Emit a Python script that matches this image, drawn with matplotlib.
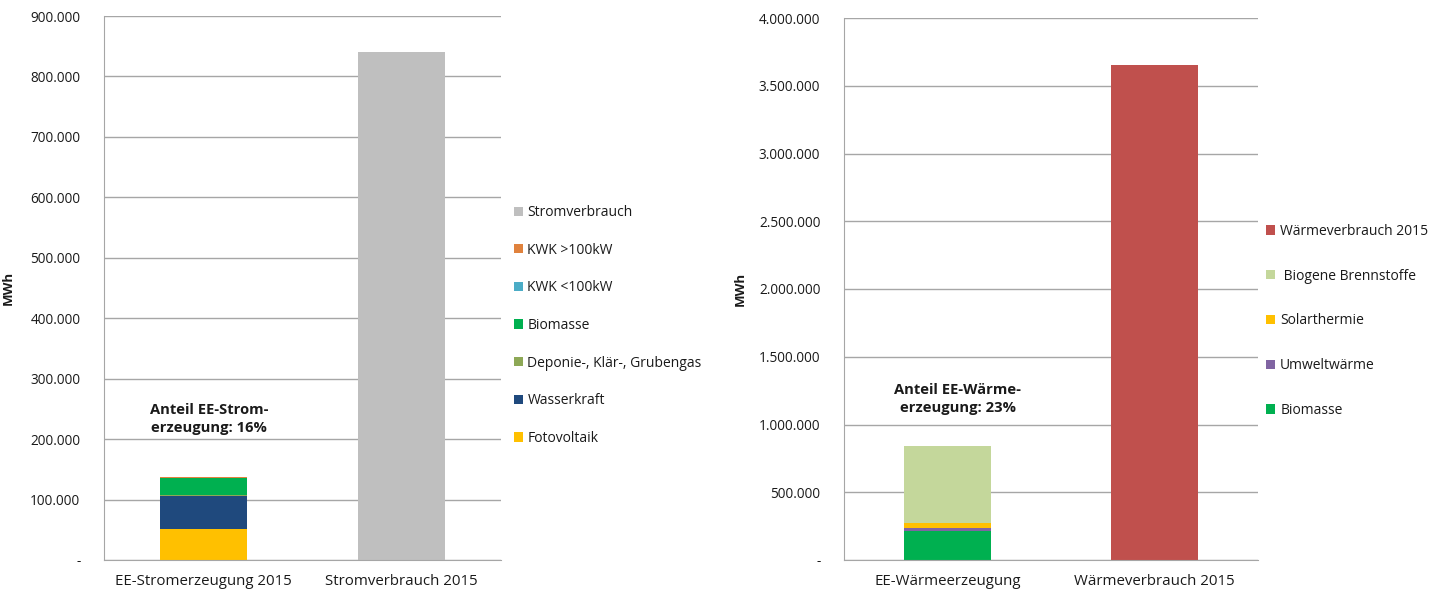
import matplotlib.pyplot as plt
import matplotlib.ticker as mticker
import numpy as np

plt.rcParams['font.family'] = ['Open Sans', 'DejaVu Sans']

# Strom: EE-Erzeugung (gestapelt) und Verbrauch 2015, MWh
strom_kat = ['EE-Stromerzeugung 2015', 'Stromverbrauch 2015']
strom_quellen = ['Fotovoltaik', 'Wasserkraft', 'Deponie-, Klär-, Grubengas',
                 'Biomasse', 'KWK <100kW', 'KWK >100kW']
strom_werte = [52000, 54500, 500, 28000, 500, 1500]
strom_farben = ['#FFC000', '#1F497D', '#8DA856', '#00B050', '#4BACC6', '#E0823D']
stromverbrauch = 840000

# Wärme: EE-Erzeugung (gestapelt) und Verbrauch 2015, MWh
waerme_kat = ['EE-Wärmeerzeugung', 'Wärmeverbrauch 2015']
waerme_quellen = ['Biomasse', 'Umweltwärme', 'Solarthermie', ' Biogene Brennstoffe']
waerme_werte = [211000, 22000, 37000, 575000]
waerme_farben = ['#00B050', '#8064A2', '#FFC000', '#C4D79B']
waermeverbrauch = 3653000

TXT = '#1a1a1a'


def tausender(v, pos):
    if v == 0:
        return '-'
    return f'{v:,.0f}'.replace(',', '.')


def achse_stil(ax, ymax, step, label_x):
    ax.set_ylim(0, ymax)
    ax.set_xlim(-0.5, 1.5)
    ax.yaxis.set_major_locator(mticker.MultipleLocator(step))
    ax.yaxis.set_major_formatter(mticker.FuncFormatter(tausender))
    ax.grid(axis='y', color='#A6A6A6', linewidth=1)
    ax.set_axisbelow(True)
    for s in ['top', 'right']:
        ax.spines[s].set_visible(False)
    for s in ['left', 'bottom']:
        ax.spines[s].set_color('#A6A6A6')
    ax.tick_params(axis='y', length=0, labelsize=9.8, colors=TXT, pad=17)
    ax.tick_params(axis='x', length=0, labelsize=10.8, colors=TXT, pad=10)
    ax.set_ylabel('MWh', fontsize=9.5, fontweight='bold', color=TXT)
    ax.yaxis.set_label_coords(label_x, 0.5)


fig = plt.figure(figsize=(14.39, 5.94), dpi=100)
ax1 = fig.add_axes([104 / 1439, 1 - 560 / 594, 397 / 1439, 544 / 594])
ax2 = fig.add_axes([844 / 1439, 1 - 560 / 594, 414 / 1439, 542 / 594])

# Linkes Diagramm: Strom
x = np.arange(len(strom_kat))
unten = 0
griffe = []
for name, wert, farbe in zip(strom_quellen, strom_werte, strom_farben):
    b = ax1.bar(x[0], wert, bottom=unten, width=0.44, color=farbe, label=name)
    griffe.append(b)
    unten += wert
b = ax1.bar(x[1], stromverbrauch, width=0.44, color='#BFBFBF', label='Stromverbrauch')
griffe.append(b)
ax1.set_xticks(x)
ax1.set_xticklabels(strom_kat)
achse_stil(ax1, 900000, 100000, -0.225)
ax1.text(x[0] + 0.03, 233000, 'Anteil EE-Strom-\nerzeugung: 16%', ha='center', va='center',
         fontsize=10.6, fontweight='bold', color=TXT, linespacing=1.35)
ax1.legend(handles=griffe[::-1], loc='upper left', bbox_to_anchor=(1.0, 0.6755),
           frameon=False, fontsize=10, labelspacing=1.63, handlelength=0.65,
           handleheight=0.65, handletextpad=0.35, labelcolor=TXT)

# Rechtes Diagramm: Wärme
x = np.arange(len(waerme_kat))
unten = 0
griffe = []
for name, wert, farbe in zip(waerme_quellen, waerme_werte, waerme_farben):
    b = ax2.bar(x[0], wert, bottom=unten, width=0.425, color=farbe, label=name)
    griffe.append(b)
    unten += wert
b = ax2.bar(x[1], waermeverbrauch, width=0.425, color='#C0504D', label='Wärmeverbrauch 2015')
griffe.append(b)
ax2.set_xticks(x)
ax2.set_xticklabels(waerme_kat)
achse_stil(ax2, 4000000, 500000, -0.235)
ax2.text(x[0] + 0.05, 1186000, 'Anteil EE-Wärme-\nerzeugung: 23%', ha='center', va='center',
         fontsize=10.6, fontweight='bold', color=TXT, linespacing=1.35)
ax2.legend(handles=griffe[::-1], loc='upper left', bbox_to_anchor=(0.99, 0.643),
           frameon=False, fontsize=10, labelspacing=2.14, handlelength=0.65,
           handleheight=0.65, handletextpad=0.35, labelcolor=TXT)

fig.savefig('out.png', dpi=100)
